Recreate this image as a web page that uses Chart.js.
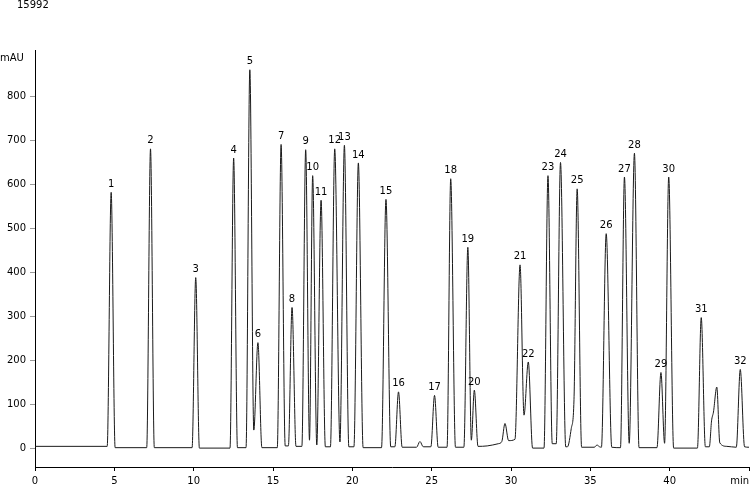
<!DOCTYPE html>
<html>
<head>
<meta charset="utf-8">
<script src="https://cdn.jsdelivr.net/npm/chart.js@4.4.1/dist/chart.umd.min.js"></script>
<style>
  html, body { margin: 0; padding: 0; background: #fff; }
  #wrap { width: 750px; height: 485px; }
</style>
</head>
<body>
<div id="wrap"><canvas id="c" width="750" height="485"></canvas></div>
<script>
// ---- data ----
const sampleName = '15992';
const yUnit = 'mAU';
const xUnit = 'min';

const xTicks = [0, 5, 10, 15, 20, 25, 30, 35, 40, 45];
const xTickLabels = ['0', '5', '10', '15', '20', '25', '30', '35', '40', 'min'];
const yTicks = [0, 100, 200, 300, 400, 500, 600, 700, 800];

// trace: retention time (min)
const traceTime = [
  0, 4.55, 4.80, 5.05, 7.04, 7.28, 7.52, 9.90, 10.13, 10.36,
  12.29, 12.52, 12.76, 13.30, 13.54, 13.79, 14.05, 14.30, 15.27, 15.51,
  15.77, 15.97, 16.20, 16.45, 16.82, 17.06, 17.30, 17.50, 17.76, 18.03,
  18.30, 18.62, 18.89, 19.22, 19.50, 19.78, 20.10, 20.38, 20.68, 21.84,
  22.12, 22.42, 22.68, 22.91, 23.14, 24.05, 24.26, 24.47, 24.95, 25.18,
  25.41, 25.97, 26.20, 26.50, 27.03, 27.28, 27.50, 27.69, 27.92, 28.50,
  29.20, 29.42, 29.62, 29.85, 30.25, 30.57, 30.82, 31.09, 31.36, 32.08,
  32.33, 32.60, 32.85, 33.12, 33.45, 33.56, 33.80, 33.97, 34.17, 34.45,
  35.25, 35.42, 35.58, 35.70, 36.00, 36.35, 36.90, 37.15, 37.45, 37.78,
  38.07, 39.20, 39.45, 39.68, 39.94, 40.25, 41.75, 41.99, 42.25, 42.50,
  42.64, 42.76, 42.97, 43.16, 43.60, 44.20, 44.45, 44.72, 45.00
];
// trace: absorbance (mAU)
const traceMau = [
  4, 4, 582, 1, 1, 681, 1, 1, 388, 0,
  0, 660, 1, 1, 861, 41, 240, 1, 1, 691,
  5, 5, 320, 4, 4, 679, 18, 620, 7, 564,
  3, 3, 681, 14, 689, 3, 3, 649, 1, 1,
  566, 3, 3, 128, 2, 2, 15, 3, 3, 120,
  2, 2, 613, 2, 2, 457, 18, 132, 4, 5,
  10, 15, 56, 17, 20, 417, 75, 196, 0, 0,
  620, 10, 10, 650, 3, 3, 45, 110, 590, 2,
  2, 7, 3, 2, 488, 2, 1, 617, 11, 671,
  1, 1, 172, 11, 617, 0, 0, 297, 3, 3,
  62, 82, 139, 12, 4, 2, 179, 3, 2
];

// labelled peaks
const peakNames = ['1','2','3','4','5','6','7','8','9','10','11','12','13','14','15','16',
                   '17','18','19','20','21','22','23','24','25','26','27','28','29','30','31','32'];
const peakTimes = [4.80, 7.28, 10.13, 12.52, 13.54, 14.05, 15.51, 16.20, 17.06, 17.50, 18.03, 18.89, 19.50, 20.38, 22.12, 22.91,
                   25.18, 26.20, 27.28, 27.69, 30.57, 31.09, 32.33, 33.12, 34.17, 36.00, 37.15, 37.78, 39.45, 39.94, 41.99, 44.45];
const peakHeights = [582, 681, 388, 660, 861, 240, 691, 320, 679, 620, 564, 681, 689, 649, 566, 128,
                     120, 613, 457, 132, 417, 196, 620, 650, 590, 488, 617, 671, 172, 617, 297, 179];

// ---- chart ----
const FONT = 'DejaVu Sans';
const points = traceTime.map((t, i) => ({ x: t, y: traceMau[i] }));

const annotate = {
  id: 'annotate',
  afterDatasetsDraw(chart) {
    const ctx = chart.ctx;
    const xs = chart.scales.x, ys = chart.scales.y;
    ctx.save();
    ctx.fillStyle = '#000';
    ctx.font = '10px "' + FONT + '"';
    ctx.textAlign = 'center';
    ctx.textBaseline = 'bottom';
    peakNames.forEach((n, i) => {
      ctx.fillText(n, xs.getPixelForValue(peakTimes[i]), ys.getPixelForValue(peakHeights[i]) - 3);
    });
    ctx.textAlign = 'left';
    ctx.textBaseline = 'middle';
    ctx.fillText(sampleName, 17, 5);
    ctx.fillText(yUnit, 0, 58);
    ctx.textAlign = 'right';
    const lastX = xs.getPixelForValue(xTicks[xTicks.length - 1]);
    ctx.fillText(xTickLabels[xTickLabels.length - 1], lastX, 481);
    ctx.restore();
  }
};

new Chart(document.getElementById('c'), {
  type: 'line',
  data: {
    datasets: [{
      data: points,
      borderColor: '#1a1a1a',
      borderWidth: 1,
      pointRadius: 0,
      fill: false,
      cubicInterpolationMode: 'monotone'
    }]
  },
  options: {
    responsive: false,
    animation: false,
    events: [],
    layout: { padding: { top: 50, right: 1, left: 0, bottom: 0 } },
    plugins: { legend: { display: false }, tooltip: { enabled: false }, title: { display: false } },
    scales: {
      x: {
        type: 'linear',
        min: 0, max: 45,
        afterBuildTicks(s) { s.ticks = xTicks.map(v => ({ value: v })); },
        afterFit(s) { s.height = 18; s.paddingLeft = 0; s.paddingRight = 0; },
        ticks: {
          autoSkip: false, maxRotation: 0, padding: 4,
          color: '#000', font: { family: FONT, size: 10 },
          callback: (v) => { const i = xTicks.indexOf(v); return i === xTicks.length - 1 ? '' : xTickLabels[i]; }
        },
        grid: { drawOnChartArea: false, drawTicks: true, tickLength: 4, color: '#000' },
        border: { display: true, color: '#000', width: 1 }
      },
      y: {
        type: 'linear',
        min: -43, max: 906,
        afterBuildTicks(s) { s.ticks = yTicks.map(v => ({ value: v })); },
        afterFit(s) { s.width = 35; s.paddingTop = 0; s.paddingBottom = 0; },
        ticks: {
          autoSkip: false, padding: 4,
          color: '#000', font: { family: FONT, size: 10 },
          callback: (v) => String(v)
        },
        grid: { drawOnChartArea: false, drawTicks: true, tickLength: 5, color: '#999' },
        border: { display: true, color: '#000', width: 1 }
      }
    }
  },
  plugins: [annotate]
});
</script>
</body>
</html>
